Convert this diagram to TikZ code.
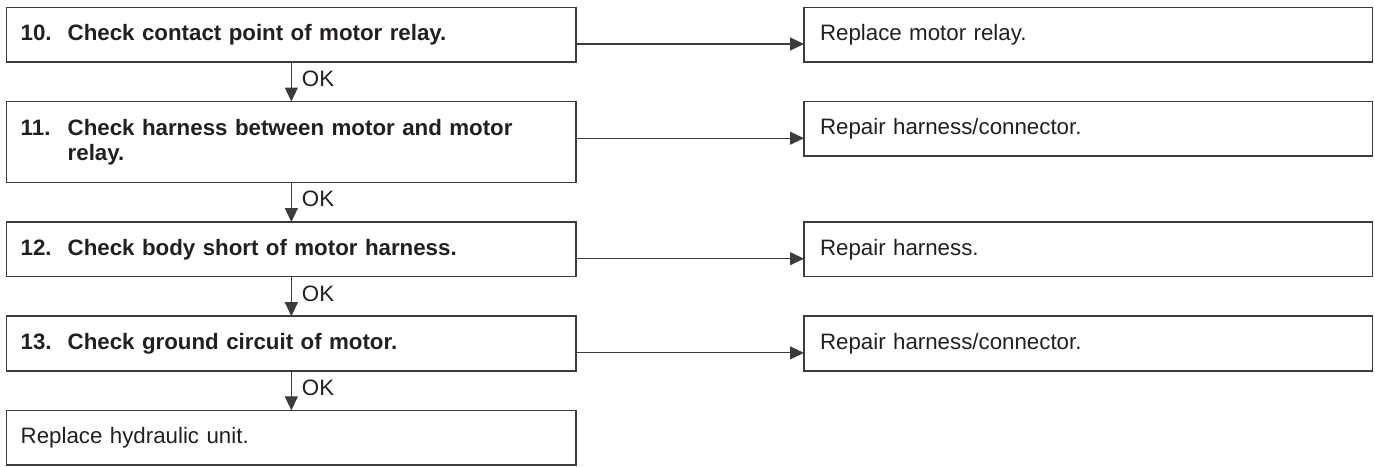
\documentclass[tikz,border=0pt]{standalone}
\usepackage{fontspec}
\setmainfont{Liberation Sans}
\usepackage{tikz}
\usetikzlibrary{arrows.meta}
\usetikzlibrary{positioning}
\definecolor{fc-text}{HTML}{231F20}
\definecolor{fc-line}{HTML}{3C3C3C}
\newcommand{\stepnum}[1]{\makebox[47pt][l]{#1}}

\begin{document}
\begin{tikzpicture}[x=1pt, y=1pt,
    checkbox/.style={draw=fc-line, line width=1.5pt, outer sep=0pt, anchor=north west, minimum height=54.7pt, text width=541.3pt, inner xsep=14pt, align=left, font=\fontsize{22.3}{25}\selectfont\bfseries, text=fc-text},
    fixbox/.style={draw=fc-line, line width=1.5pt, outer sep=0pt, minimum height=54.7pt, text width=536.7pt, inner xsep=16pt, align=left, font=\fontsize{22.3}{25}\selectfont, text=fc-text},
    flow/.style={-{Triangle[length=14pt,width=13pt]}, line width=1.1pt, fc-line},
    oklabel/.style={right, inner xsep=10pt, yshift=3pt, font=\fontsize{22.3}{25}\selectfont, text=fc-text}]
    \useasboundingbox (0,0) rectangle (1375,-466);
    % check steps
    \node[checkbox] (l10) at (6.7,-7.3) {\stepnum{10.}Check contact point of motor relay.};
    \node[checkbox, minimum height=81pt, below=39.5pt of l10] (l11) {\stepnum{11.}Check harness between motor and motor\\\hspace*{47pt}relay.};
    \node[checkbox, below=39.5pt of l11] (l12) {\stepnum{12.}Check body short of motor harness.};
    \node[checkbox, below=39.5pt of l12] (l13) {\stepnum{13.}Check ground circuit of motor.};
    \node[checkbox, font=\fontsize{22.3}{25}\selectfont, below=39.5pt of l13] (l14) {Replace hydraulic unit.};
    % remedies
    \node[fixbox, right=228pt of l10.north east, anchor=north west] (r10) {Replace motor relay.};
    \node[fixbox, right=228pt of l11.north east, anchor=north west] (r11) {Repair harness/connector.};
    \node[fixbox, right=228pt of l12.north east, anchor=north west] (r12) {Repair harness.};
    \node[fixbox, right=228pt of l13.north east, anchor=north west] (r13) {Repair harness/connector.};
    % connectors
    \foreach \n in {10,...,13} {
        \coordinate (a\n) at ([yshift=-36.7pt]r\n.north west);
        \draw[flow] (l\n.east |- a\n) -- (a\n);
    }
    \foreach \a/\b in {10/11, 11/12, 12/13, 13/14}
        \draw[flow] (l\a) -- (l\b) node[midway, oklabel] {OK};
\end{tikzpicture}
\end{document}
